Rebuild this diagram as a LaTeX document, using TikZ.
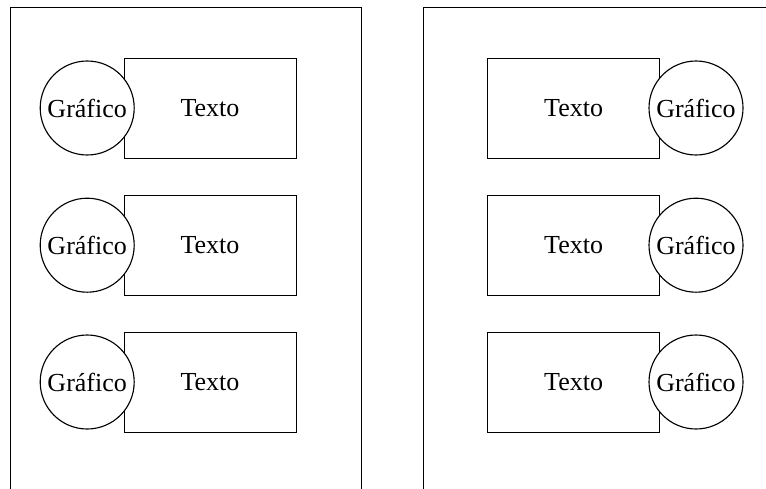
\documentclass[tikz,border=0pt]{standalone}
\usepackage{fontspec}
\setmainfont{Liberation Serif}
\usepackage{tikz}

\begin{document}
\begin{tikzpicture}[>=stealth,
    texto/.style={draw, minimum width=4.3cm, minimum height=2.5cm, inner sep=0pt},
    grafico/.style={draw, circle, thick, fill=white, minimum size=2.35cm, inner sep=0pt},
    every node/.style={font=\fontsize{18.5}{22}\selectfont}]
    \useasboundingbox (0,0) rectangle (19.15,12.2);

    % paginas
    \draw[semithick] (0.25,-0.5) -- (0.25,12.02) -- (9.03,12.02) -- (9.03,-0.5);
    \draw[semithick] (10.58,-0.5) -- (10.58,12.02) -- (19.6,12.02);

    % izquierda
    \node[texto] (t1) at (5.25,9.5) {Texto};
    \node[texto] (t2) at (5.25,6.07) {Texto};
    \node[texto] (t3) at (5.25,2.65) {Texto};
    \node[grafico] (g1) at (2.18,9.5) {Gráfico};
    \node[grafico] (g2) at (2.18,6.07) {Gráfico};
    \node[grafico] (g3) at (2.18,2.65) {Gráfico};

    % derecha
    \node[texto] (t4) at (14.34,9.5) {Texto};
    \node[texto] (t5) at (14.34,6.07) {Texto};
    \node[texto] (t6) at (14.34,2.65) {Texto};
    \node[grafico] (g4) at (17.4,9.5) {Gráfico};
    \node[grafico] (g5) at (17.4,6.07) {Gráfico};
    \node[grafico] (g6) at (17.4,2.65) {Gráfico};
\end{tikzpicture}
\end{document}
